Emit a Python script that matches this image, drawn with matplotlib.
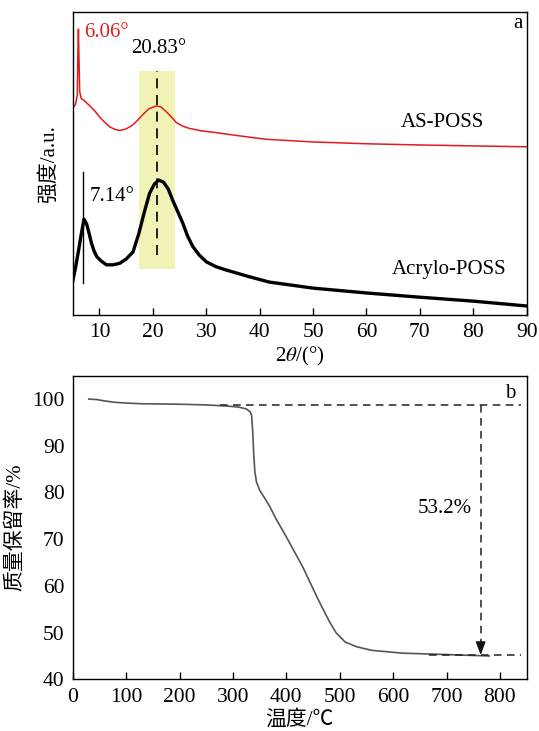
import matplotlib
matplotlib.use('Agg')
import matplotlib.pyplot as plt

plt.rcParams['font.family'] = ['Liberation Serif', 'Noto Sans CJK SC']
plt.rcParams['mathtext.fontset'] = 'stix'

# XRD data (2theta in degrees, intensity in arbitrary units)
as_poss_2theta = [5.0, 5.5, 5.85, 5.95, 6.06, 6.15, 6.3, 6.6, 7.2, 8.2, 9.2, 10.1, 11.0, 12.0,
                  13.0, 13.8, 15.0, 16.3, 17.2, 18.1, 19.3, 20.6, 21.5, 22.5, 23.5, 24.4, 25.5,
                  26.8, 29.0, 31.8, 35.0, 41.1, 50.0, 60.0, 70.0, 80.0, 90.0]
as_poss_int = [68.5, 69.5, 72.8, 86.0, 94.5, 86.0, 73.8, 71.5, 70.8, 69.1, 67.3, 65.3, 63.7, 62.1,
               61.3, 61.0, 61.5, 62.9, 64.5, 66.2, 68.2, 69.1, 68.8, 67.2, 65.4, 63.6, 62.5,
               61.7, 60.9, 60.3, 59.5, 58.1, 57.2, 56.6, 56.2, 55.9, 55.6]

acrylo_2theta = [5.0, 5.5, 6.0, 6.5, 7.1, 7.6, 8.0, 8.5, 9.0, 9.5, 10.3, 11.3, 12.5, 13.8, 15.0,
                 16.3, 17.4, 18.4, 19.4, 20.3, 21.1, 22.0, 22.9, 23.7, 24.6, 25.6, 26.5, 27.5,
                 28.7, 30.0, 31.8, 33.7, 38.0, 41.8, 50.0, 60.0, 70.0, 80.0, 90.0]
acrylo_int = [11.2, 15.5, 20.5, 25.8, 31.7, 30.1, 27.4, 23.8, 21.1, 19.3, 17.9, 16.6, 16.6, 17.1,
              18.5, 20.9, 27.1, 34.0, 40.3, 43.3, 44.6, 43.9, 41.6, 38.0, 34.4, 30.4, 26.1, 22.6,
              19.8, 17.6, 16.0, 14.9, 12.7, 10.9, 8.9, 7.3, 5.9, 4.6, 3.0]

# TGA data (temperature in C, mass retention in %)
tga_temp = [30, 45, 60, 80, 100, 130, 200, 250, 290, 310, 325, 332, 335, 337, 339, 341, 344,
            350, 360, 369, 380, 400, 431, 460, 480, 493, 510, 531, 560, 618, 700, 780]
tga_mass = [100.0, 99.9, 99.6, 99.3, 99.15, 99.0, 98.9, 98.75, 98.5, 98.3, 97.9, 97.3, 96.5,
            93.0, 88.0, 84.5, 82.3, 80.5, 78.7, 77.0, 74.5, 70.5, 64.0, 57.0, 52.5, 50.0, 48.0,
            47.0, 46.2, 45.6, 45.3, 45.0]

fig = plt.figure(figsize=(5.39, 7.31), dpi=100)
ax1 = fig.add_axes([0.135, 0.569, 0.842, 0.414])
ax2 = fig.add_axes([0.135, 0.0707, 0.842, 0.4153])

red = '#e31a1c'

# ---- panel a ----
ax1.fill_between([17.4, 24.1], 15.2, 80.5, color='#f1f2b6', lw=0, zorder=0)
ax1.plot(as_poss_2theta, as_poss_int, color=red, lw=1.1)
ax1.plot(acrylo_2theta, acrylo_int, color='black', lw=2.4)
ax1.plot([20.7, 20.7], [19.8, 80.5], color='black', lw=1.2, ls=(0, (6, 4)))
ax1.plot([7.0, 7.0], [10.7, 47.4], color='black', lw=1.0)

ax1.set_xlim(5, 90)
ax1.set_ylim(0, 100)
ax1.set_yticks([])
ax1.set_xticks([10, 20, 30, 40, 50, 60, 70, 80, 90])
ax1.tick_params(axis='x', direction='in', length=5, width=1, labelsize=15.5, pad=6)
ax1.set_xlabel(r'2$\theta$/(°)', fontsize=15, labelpad=2)
ax1.set_ylabel('强度/a.u.', fontsize=15, labelpad=10)

ax1.text(7.2, 93.3, '6.06°', color=red, fontsize=15, ha='left', va='center')
ax1.text(21.0, 88.0, '20.83°', color='black', fontsize=15, ha='center', va='center')
ax1.text(8.1, 39.1, '7.14°', color='black', fontsize=15, ha='left', va='center')
ax1.text(74.3, 63.5, 'AS-POSS', fontsize=15, ha='center', va='center')
ax1.text(75.4, 14.9, 'Acrylo-POSS', fontsize=15, ha='center', va='center')
ax1.text(88.4, 96.2, 'a', fontsize=15, ha='center', va='center')

# ---- panel b ----
ax2.plot(tga_temp, tga_mass, color='#555555', lw=1.2)
ax2.plot([275, 840], [98.8, 98.8], color='#222222', lw=1.1, ls=(0, (5, 3.5)))
ax2.plot([668, 840], [45.2, 45.2], color='#222222', lw=1.1, ls=(0, (5, 3.5)))
ax2.plot([764, 764], [98.8, 47.5], color='#222222', lw=1.1, ls=(0, (5, 3.5)))
ax2.annotate('', xy=(764, 45.2), xytext=(764, 48.2),
             arrowprops=dict(arrowstyle='-|>,head_length=0.8,head_width=0.3',
                             color='#111111', lw=1.0, shrinkA=0, shrinkB=0))
ax2.text(748, 76.5, '53.2%', fontsize=15, ha='right', va='center')
ax2.text(820, 101.2, 'b', fontsize=15, ha='center', va='center')

ax2.set_xlim(0, 850)
ax2.set_ylim(40, 105)
ax2.set_xticks([0, 100, 200, 300, 400, 500, 600, 700, 800])
ax2.set_yticks([40, 50, 60, 70, 80, 90, 100])
ax2.tick_params(axis='x', direction='in', length=5, width=1, labelsize=15.5, pad=6)
ax2.tick_params(axis='y', direction='in', length=0, labelsize=15.5, pad=6)
ax2.set_xlabel('温度/℃', fontsize=15, labelpad=2)
ax2.set_ylabel('质量保留率/%', fontsize=15, labelpad=5)

for ax in (ax1, ax2):
    for s in ax.spines.values():
        s.set_linewidth(1.0)

fig.savefig('out.png', dpi=100)
